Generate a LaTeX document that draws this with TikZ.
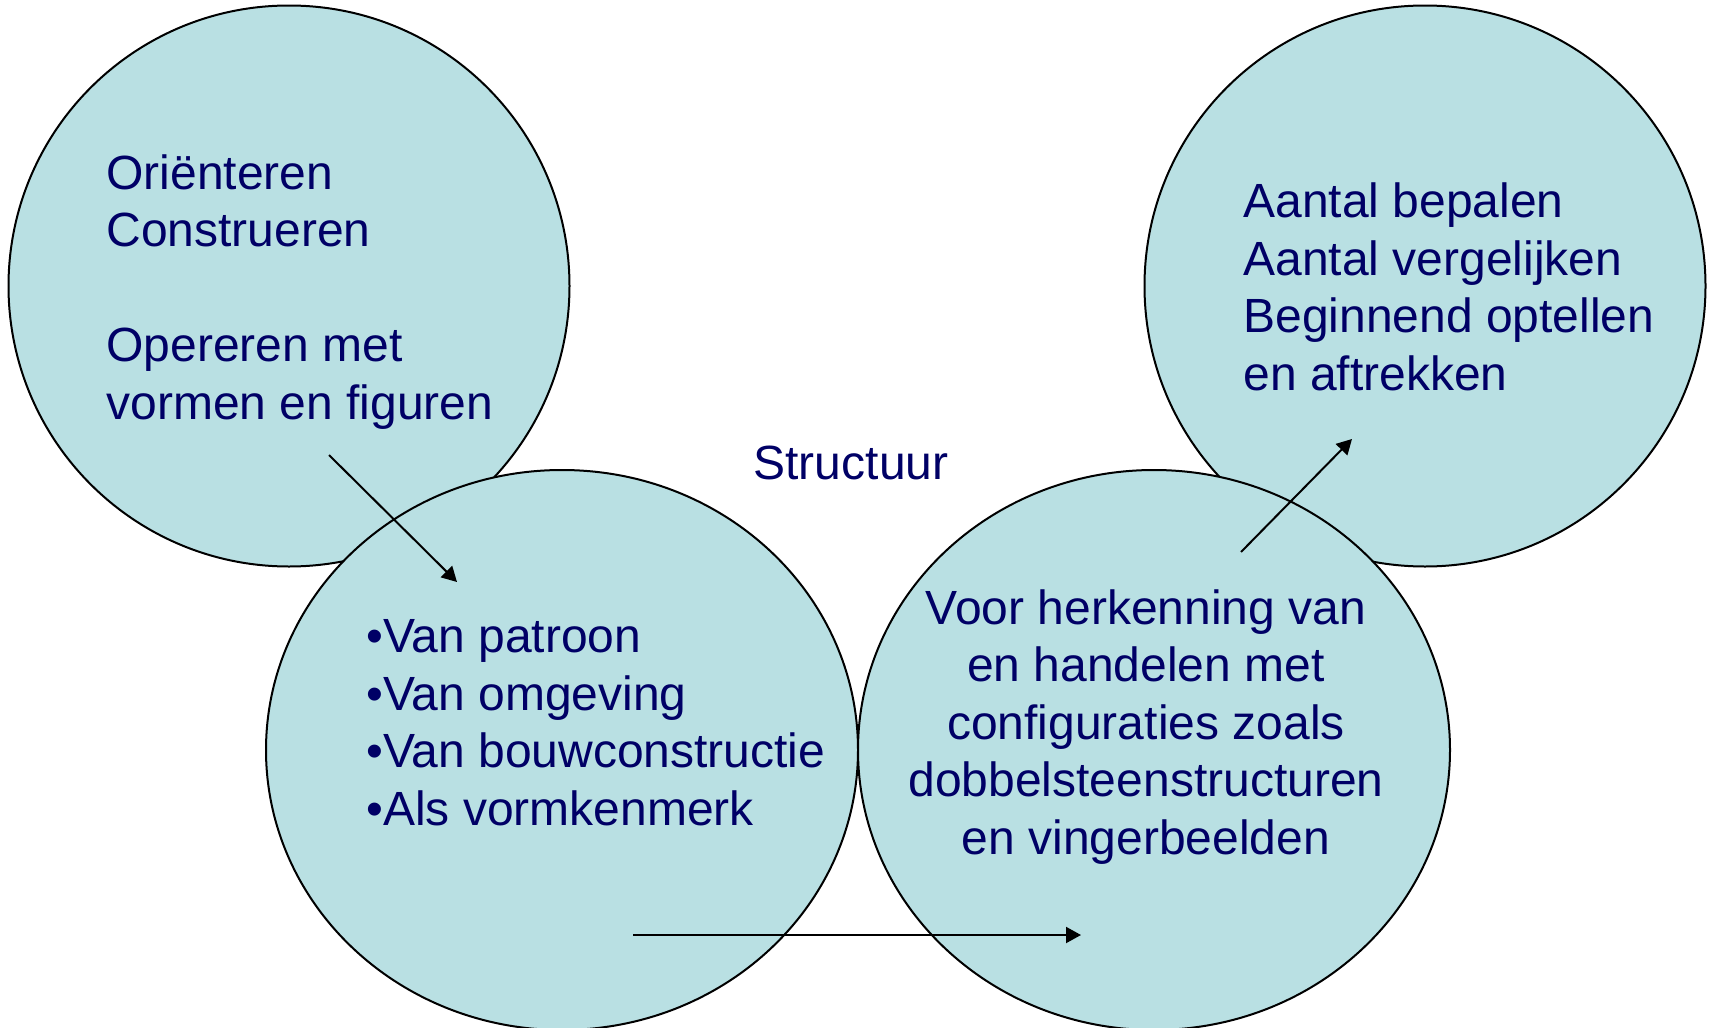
\documentclass[tikz,border=0pt]{standalone}
\usepackage{fontspec}
\setmainfont{Liberation Sans}
\usetikzlibrary{shapes,arrows.meta,positioning}
\definecolor{bubble}{HTML}{B9E0E3}
\definecolor{textblue}{HTML}{000066}

\begin{document}
\begin{tikzpicture}
    [x=0.5pt, y=-0.5pt,
    topbubble/.style={draw=black, line width=1pt, fill=bubble, circle, minimum size=280.5pt, inner sep=0pt},
    lowbubble/.style={draw=black, line width=1pt, fill=bubble, ellipse, minimum width=296pt, minimum height=280pt, inner sep=0pt},
    bubbletext/.style={text=textblue, font=\fontsize{24pt}{28.7pt}\selectfont, inner sep=0pt},
    pointer/.style={black, line width=1pt, arrows={-Triangle[length=7.5pt,width=8pt]}}]

    \useasboundingbox (0,0) rectangle (1709,1028);

    \node[topbubble] (orient) at (289,286) {};
    \node[topbubble] (aantal) at (1425,286) {};
    \node[lowbubble] (patroon) at (562,750) {};
    \node[lowbubble] (config) at (1154,750) {};

    %base anchor sits on the last line
    \node[bubbletext, align=left, anchor=base west] (orienttext) at (106,419)
    {Oriënteren\\Construeren\\[28.7pt]Opereren met\\vormen en figuren};

    \node[bubbletext, align=left, anchor=base west] (aantaltext) at (1243,390)
    {Aantal bepalen\\Aantal vergelijken\\Beginnend optellen\\en aftrekken};

    \node[bubbletext, align=left, anchor=base west] (patroontext) at (366,825)
    {•Van patroon\\•Van omgeving\\•Van bouwconstructie\\•Als vormkenmerk};

    \node[bubbletext, align=center, anchor=base] (configtext) at (1146,854)
    {Voor herkenning van\\en handelen met\\configuraties zoals\\dobbelsteenstructuren\\en vingerbeelden};

    \node[bubbletext, anchor=base] (title) at (851,479) {Structuur};

    %arrows between the bubbles
    \coordinate (p1) at (329,455);
    \coordinate (p2) at (457,582);
    \coordinate (p3) at (633,935);
    \coordinate (p4) at (1081,935);
    \coordinate (p5) at (1241,552);
    \coordinate (p6) at (1352,439);

    \draw [pointer] (p1) -- (p2);
    \draw [pointer] (p3) -- (p4);
    \draw [pointer] (p5) -- (p6);
\end{tikzpicture}
\end{document}
